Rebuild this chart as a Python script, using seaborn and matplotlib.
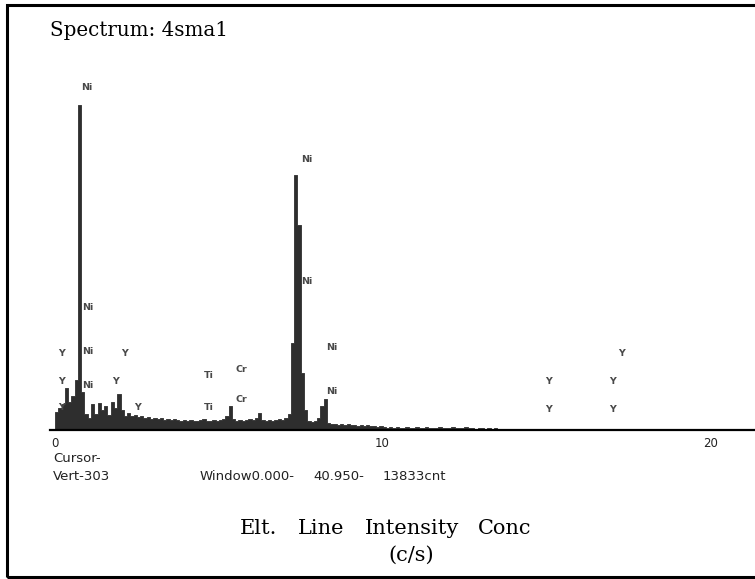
import numpy as np
import pandas as pd
import matplotlib
matplotlib.use("Agg")
import matplotlib.pyplot as plt
from matplotlib.patches import Rectangle
import seaborn as sns

# ---- data ----
title = "Spectrum: 4sma1"
bin_width = 0.1  # keV per channel group
# counts per 0.1 keV bin, starting at 0.0 keV
counts = [
    18, 22, 26, 42, 28, 34, 50, 325, 38, 16,      # 0.0 - 1.0
    12, 26, 16, 27, 20, 24, 15, 28, 22, 36,       # 1.0 - 2.0
    20, 14, 17, 14, 15, 13, 14, 12, 13, 11,       # 2.0 - 3.0
    12, 11, 12, 10, 11, 10, 11, 10, 9, 10,        # 3.0 - 4.0
    9, 10, 9, 9, 10, 11, 9, 9, 10, 9,             # 4.0 - 5.0
    10, 11, 14, 24, 11, 9, 10, 9, 10, 11,         # 5.0 - 6.0
    10, 12, 17, 10, 9, 10, 9, 10, 11, 10,         # 6.0 - 7.0
    12, 16, 87, 255, 205, 57, 20, 9, 8, 9,        # 7.0 - 8.0
    12, 24, 31, 7, 6, 6, 5, 6, 5, 6,              # 8.0 - 9.0
    5, 5, 4, 5, 4, 5, 4, 4, 3, 4,                 # 9.0 - 10.0
    3, 2, 3, 2, 3, 2, 2, 3, 2, 2,                 # 10.0 - 11.0
    3, 2, 2, 3, 2, 2, 2, 3, 2, 2,                 # 11.0 - 12.0
    2, 3, 2, 2, 2, 3, 2, 2, 1, 2,                 # 12.0 - 13.0
    2, 1, 2, 1, 2, 1, 1, 1, 0, 0,                 # 13.0 - 14.0
]
tick_values = [0, 10, 20]
tick_labels = ["0", "10", "20"]

# element peak labels: (text, energy keV, height)
peak_labels = [
    ("Ni", 0.98, 342), ("Ni", 7.70, 271), ("Ni", 7.70, 148),
    ("Ni", 1.01, 122), ("Ni", 1.01, 78), ("Ni", 1.01, 45),
    ("Ni", 8.44, 83), ("Ni", 8.44, 38),
    ("Y", 0.21, 77), ("Y", 0.21, 49), ("Y", 0.21, 22),
    ("Y", 2.11, 77), ("Y", 1.86, 49), ("Y", 2.53, 22),
    ("Ti", 4.70, 54), ("Ti", 4.70, 23),
    ("Cr", 5.68, 61), ("Cr", 5.68, 30),
    ("Y", 15.08, 49), ("Y", 15.08, 21),
    ("Y", 17.01, 49), ("Y", 17.01, 21), ("Y", 17.28, 76),
]

cursor_text = "Cursor-"
vert_text = "Vert-303"
window_parts = ["Window0.000-", "40.950-", "13833cnt"]
table_header = ["Elt.", "Line", "Intensity", "Conc"]
table_unit = "(c/s)"

# ---- build ----
n = len(counts)
edges = [round(i * bin_width, 3) for i in range(n + 1)]
centers = [(edges[i] + edges[i + 1]) / 2 for i in range(n)]
df = pd.DataFrame({"energy": centers, "counts": counts})

sns.set_style("white")
W, H = 755, 579
fig = plt.figure(figsize=(W / 100, H / 100), dpi=100)
fig.patch.set_facecolor("white")

ax = fig.add_axes([50 / W, 1 - 430 / H, 705 / W, 370 / H])
sns.histplot(data=df, x="energy", weights="counts", bins=edges,
             element="step", fill=True, color="#2e2e2e", alpha=1.0,
             linewidth=0.6, ax=ax)
ax.set_xlim(-0.153, 21.37)
ax.set_ylim(0, 370)
ax.set_xlabel("")
ax.set_ylabel("")
ax.set_yticks([])
ax.set_xticks(tick_values)
ax.set_xticklabels(tick_labels, fontsize=8.5, family="DejaVu Sans", color="#222222")
ax.tick_params(axis="x", direction="out", length=3, width=0.8, pad=2, color="#444444")
for s in ["left", "right", "top"]:
    ax.spines[s].set_visible(False)
ax.spines["bottom"].set_linewidth(1.6)
ax.spines["bottom"].set_color("black")
ax.patch.set_alpha(0)

for txt, e, h in peak_labels:
    ax.text(e, h, txt, fontsize=6.8, color="#484848", ha="center", va="center",
            family="DejaVu Sans", fontweight="bold", clip_on=False)

sans = "DejaVu Sans"
serif = "DejaVu Serif"
# figure-level texts
fig.text(50 / W, 1 - 31 / H, title, fontsize=14.3, family=serif,
         ha="left", va="center", color="black")
fig.text(53 / W, 1 - 458 / H, cursor_text, fontsize=9.5, family=sans,
         ha="left", va="center", color="#222222")
fig.text(53 / W, 1 - 477 / H, vert_text, fontsize=9.5, family=sans,
         ha="left", va="center", color="#222222")
for txt, x0 in zip(window_parts, [200, 313, 383]):
    fig.text(x0 / W, 1 - 477 / H, txt, fontsize=9.5, family=sans,
             ha="left", va="center", color="#222222")
for txt, x0 in zip(table_header, [240, 298, 365, 478]):
    fig.text(x0 / W, 1 - 529 / H, txt, fontsize=15, family=serif,
             ha="left", va="center", color="black")
fig.text(411 / W, 1 - 555 / H, table_unit, fontsize=15, family=serif,
         ha="center", va="center", color="black")

# outer frame (right edge cropped off in the reference)
fig.patches.append(Rectangle((7 / W, 2 / H), 1.2, 1 - 7 / H, transform=fig.transFigure,
                             fill=False, edgecolor="black", linewidth=2.2, clip_on=False))

fig.savefig("out.png", dpi=100)
